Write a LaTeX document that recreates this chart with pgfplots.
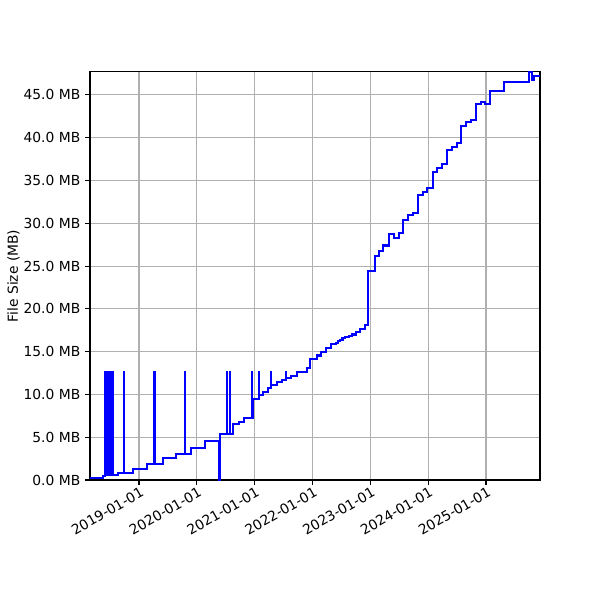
\documentclass[border=0pt]{standalone}
\usepackage{fontspec}
\setmainfont{DejaVu Sans}
\usepackage{pgfplots}
\pgfplotsset{compat=1.18}
\begin{document}
\begin{tikzpicture}
\useasboundingbox (-65.04pt,-86.72pt) rectangle (368.56pt,346.91pt);
\begin{axis}[
  at={(0,0)}, anchor=south west,
  scale only axis, width=325.2pt, height=295.0pt,
  xmin=2018.153, xmax=2025.934, ymin=0, ymax=47.7,
  xtick={2019,2020,2021,2022,2023,2024,2025},
  xticklabels={2019-01-01,2020-01-01,2021-01-01,2022-01-01,2023-01-01,2024-01-01,2025-01-01},
  ytick={0,5,10,15,20,25,30,35,40,45},
  yticklabels={0.0 MB,5.0 MB,10.0 MB,15.0 MB,20.0 MB,25.0 MB,30.0 MB,35.0 MB,40.0 MB,45.0 MB},
  xticklabel style={rotate=30, anchor=north east, font=\fontsize{10}{12}\selectfont, inner sep=1pt, xshift=1pt},
  yticklabel style={font=\fontsize{10}{12}\selectfont},
  ylabel={File Size (MB)},
  ylabel style={font=\fontsize{10}{12}\selectfont},
  ylabel shift=-4pt,
  tick align=outside, tick pos=left,
  major tick length=3.5pt,
  every tick/.style={black, line width=0.8pt},
  axis line style={line width=0.8pt},
  grid=major,
  major grid style={color=black!31, line width=0.8pt},
  /pgf/number format/assume math mode=true,
]
\addplot[const plot, color=blue, line width=1.5pt] coordinates {
(2018.153,0.20)
(2018.378,0.47)
(2018.417,12.6) (2018.422,0.58)
(2018.429,12.6) (2018.434,0.58)
(2018.441,12.6) (2018.446,0.58)
(2018.453,12.6) (2018.458,0.58)
(2018.465,12.6) (2018.470,0.58)
(2018.477,12.6) (2018.482,0.58)
(2018.489,12.6) (2018.494,0.58)
(2018.501,12.6) (2018.506,0.58)
(2018.513,12.6) (2018.518,0.58)
(2018.525,12.6) (2018.530,0.58)
(2018.537,12.6) (2018.542,0.58)
(2018.549,12.6) (2018.554,0.58)
(2018.637,0.78)
(2018.735,12.6) (2018.740,0.78)
(2018.901,1.30)
(2019.133,1.83)
(2019.265,12.6) (2019.270,1.83)
(2019.420,2.55)
(2019.635,3.04)
(2019.795,12.6) (2019.800,3.04)
(2019.899,3.70)
(2020.146,4.56)
(2020.383,0.00)
(2020.398,5.34)
(2020.517,12.6) (2020.522,5.34)
(2020.574,12.6) (2020.579,5.34)
(2020.631,6.50)
(2020.734,6.80)
(2020.821,7.20)
(2020.949,12.6) (2020.954,7.20)
(2020.977,9.43)
(2021.075,12.6) (2021.080,9.93)
(2021.149,10.30)
(2021.236,10.70)
(2021.283,12.6) (2021.288,11.10)
(2021.381,11.40)
(2021.468,11.70)
(2021.542,12.6) (2021.547,11.90)
(2021.623,12.20)
(2021.727,12.60)
(2021.910,13.05)
(2021.957,14.10)
(2022.073,14.55)
(2022.142,14.95)
(2022.234,15.45)
(2022.315,15.85)
(2022.401,16.05)
(2022.440,16.25)
(2022.476,16.40)
(2022.520,16.55)
(2022.562,16.70)
(2022.631,16.85)
(2022.678,17.00)
(2022.752,17.30)
(2022.822,17.70)
(2022.908,18.10)
(2022.955,24.46)
(2023.081,26.20)
(2023.150,26.80)
(2023.224,27.40)
(2023.328,28.75)
(2023.415,28.25)
(2023.501,28.90)
(2023.570,30.40)
(2023.657,31.00)
(2023.743,31.25)
(2023.830,33.30)
(2023.911,33.70)
(2023.980,34.10)
(2024.079,36.00)
(2024.158,36.50)
(2024.234,36.90)
(2024.321,38.60)
(2024.407,38.96)
(2024.494,39.40)
(2024.568,41.40)
(2024.655,41.80)
(2024.741,42.10)
(2024.827,43.90)
(2024.914,44.20)
(2024.983,43.95)
(2025.070,45.50)
(2025.312,46.50)
(2025.749,47.70)
(2025.791,46.80)
(2025.836,47.20)
(2025.934,47.20)
};
\end{axis}
\end{tikzpicture}
\end{document}
